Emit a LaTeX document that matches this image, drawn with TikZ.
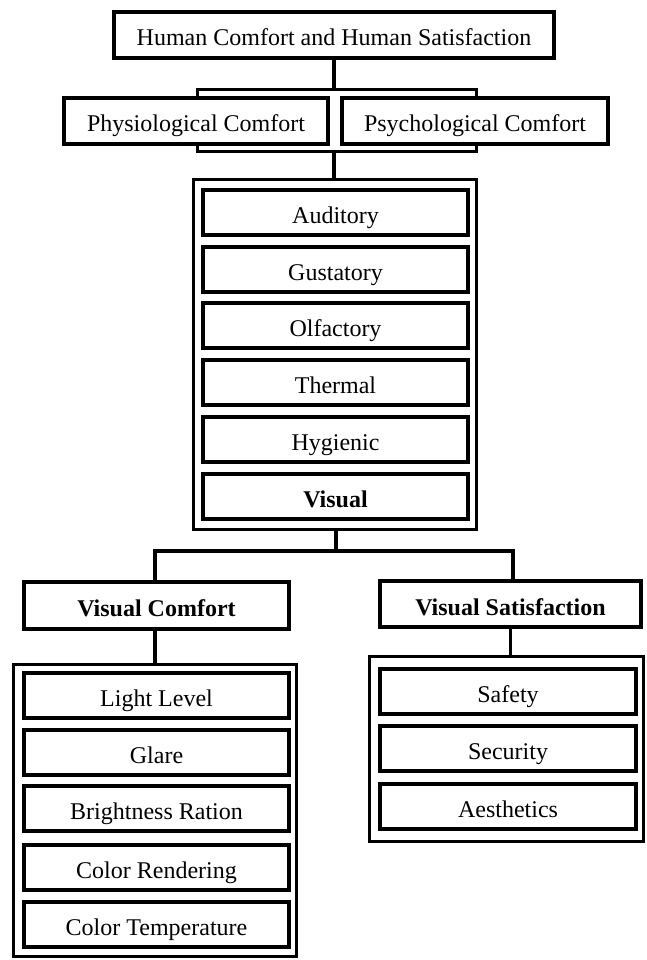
\documentclass[tikz,border=0pt]{standalone}
\usepackage{fontspec}
\setmainfont{Liberation Serif}
\begin{document}
\begin{tikzpicture}[x=1pt,y=-1pt,
  box/.style={draw, fill=white, line width=4pt, inner sep=0pt, text height=22pt, text depth=0pt, font=\fontsize{24}{28}\selectfont},
  bbox/.style={box, font=\fontsize{24}{28}\selectfont\bfseries},
  frame/.style={draw, fill=white, line width=3pt, inner sep=0pt},
  link/.style={line width=3.5pt}]
\useasboundingbox (0,0) rectangle (646,960);
% top
\node[box, minimum width=440pt, minimum height=46pt] (top) at (334,35) {Human Comfort and Human Satisfaction};
\node[frame, minimum width=279pt, minimum height=62pt] (pframe) at (337,120.5) {};
\node[box, minimum width=264pt, minimum height=46pt] (phys) at (196,121) {Physiological Comfort};
\node[box, minimum width=266pt, minimum height=46pt] (psych) at (475,121) {Psychological Comfort};
\draw[link] (top.south) -- (top.south |- pframe.north);
% senses
\node[frame, minimum width=283pt, minimum height=350pt] (sframe) at (335,354.5) {};
\draw[link] (pframe.south -| top.south) -- (sframe.north -| top.south);
\foreach \n/\t/\y in {aud/Auditory/212.5, gus/Gustatory/269.2, olf/Olfactory/325.9, the/Thermal/382.6, hyg/Hygienic/439.3}{
  \node[box, minimum width=265pt, minimum height=45pt] (\n) at (335.5,\y) {\t};
}
\node[bbox, minimum width=265pt, minimum height=45pt] (vis) at (335.5,496) {Visual};
% branching
\coordinate (j) at (336,551);
\node[bbox, minimum width=265pt, minimum height=47pt] (vc) at (156.5,605.5) {Visual Comfort};
\node[bbox, minimum width=261pt, minimum height=46pt] (vs) at (510.5,604) {Visual Satisfaction};
\coordinate (jl) at (155,551);
\coordinate (jr) at (513,551);
\draw[link] (sframe.south -| j) -- (j);
\draw[link] (vc.north -| jl) -- (jl) -- (jr) -- (vs.north -| jr);
% visual comfort list
\node[frame, minimum width=283pt, minimum height=292pt] (vcframe) at (155,810.5) {};
\draw[link] (vc.south -| jl) -- (vcframe.north -| jl);
\foreach \n/\t/\y in {ll/Light Level/695, gl/Glare/752, br/Brightness Ration/808.5, cr/Color Rendering/867, ct/Color Temperature/924}{
  \node[box, minimum width=265pt, minimum height=45pt] (\n) at (156.5,\y) {\t};
}
% visual satisfaction list
\node[frame, minimum width=274pt, minimum height=185pt] (vsframe) at (506.5,749) {};
\draw[link] (vs.south) -- (vsframe.north -| vs.south);
\foreach \n/\t/\y in {sa/Safety/691, se/Security/748.5, ae/Aesthetics/806.5}{
  \node[box, minimum width=256pt, minimum height=45pt] (\n) at (508,\y) {\t};
}
\end{tikzpicture}
\end{document}
